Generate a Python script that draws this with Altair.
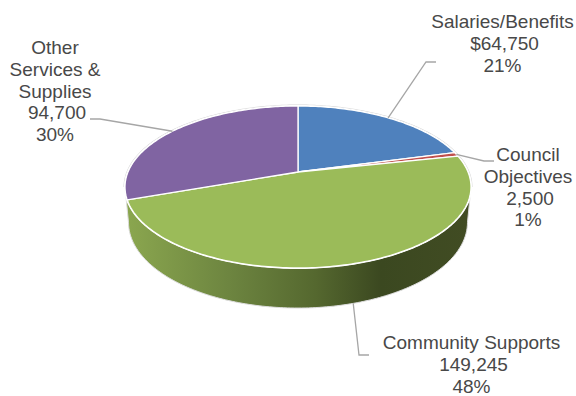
import math
import altair as alt
import pandas as pd

# Budget lines, clockwise from twelve o'clock
categories = ["Salaries/Benefits", "Council Objectives", "Community Supports", "Other Services & Supplies"]
values = [64750, 2500, 149245, 94700]
value_prefix = ["$", "", "", ""]
percents = [21, 1, 48, 30]
colors = ["#4f81bd", "#c0504d", "#9bbb59", "#8064a2"]

label_lines = [["Salaries/Benefits"], ["Council", "Objectives"], ["Community Supports"], ["Other", "Services &", "Supplies"]]
label_center_x = [502.5, 528, 471.5, 55]
label_first_y = [22, 155, 343, 48]
line_gap = 21.8
value_shift = 2
leader_bends = [[(426, 62), (436, 62)], [(484, 161), (494, 161)], [(359, 355), (369, 355)], [(100, 119), (90, 119)]]

# Perspective model of the tilted disc
CX, CY = 298.0, 172.0
RX, RY = 170.0, 78.2
TILT = 0.185
DEPTH, DEPTH_W = 35.4, 0.02


def project(theta_deg, h=0.0):
    t = math.radians(theta_deg)
    u, v = math.sin(t), math.cos(t)
    w = 1 + TILT * v + DEPTH_W * h
    return CX + RX * u / w, CY + (-RY * v + DEPTH * h) / w


def frange(a, b, step=1.0):
    n = max(2, int(abs(b - a) / step) + 1)
    return [a + (b - a) * i / (n - 1) for i in range(n)]


total = sum(values)
edges = [0.0]
for v in values:
    edges.append(edges[-1] + 360.0 * v / total)

X = alt.X("x:Q", scale=alt.Scale(domain=[0, 576], range=[0, 576], nice=False, zero=False), axis=None)
Y = alt.Y("y:Q", scale=alt.Scale(domain=[0, 396], range=[0, 396], nice=False, zero=False), axis=None)


def frame(points):
    return pd.DataFrame([{"i": i, "x": p[0], "y": p[1]} for i, p in enumerate(points)])


def path_layer(points, **mark):
    return alt.Chart(frame(points)).mark_line(interpolate="linear-closed", **mark).encode(
        x=X, y=Y, order=alt.Order("i:Q")
    )


def open_layer(points, **mark):
    return alt.Chart(frame(points)).mark_line(**mark).encode(x=X, y=Y, order=alt.Order("i:Q"))


layers = []

# Side wall: front rim of the top disc joined to the rim of the bottom disc
tangent = math.degrees(math.acos(-TILT))
wall_top = [project(t) for t in frange(tangent, 360 - tangent)]
wall_bottom = [project(t, 1) for t in frange(360 - tangent, tangent)]
wall_fill = alt.Gradient(
    gradient="linear", x1=0, x2=1, y1=0, y2=0,
    stops=[
        alt.GradientStop(offset=0.0, color="#8ba74f"),
        alt.GradientStop(offset=0.3, color="#6d8540"),
        alt.GradientStop(offset=0.55, color="#55682f"),
        alt.GradientStop(offset=0.74, color="#3b4820"),
        alt.GradientStop(offset=1.0, color="#414c23"),
    ],
)
layers.append(path_layer(wall_top + wall_bottom, fill=wall_fill, stroke="#dcdcdc", strokeWidth=1))

# Pale halo along the back of the disc, white rim where it meets the wall
back = [project(t) for t in frange(360 - tangent, 360 + tangent)]
layers.append(open_layer(back, color="#d6d6d6", strokeWidth=3))
rim = [project(t) for t in frange(0, 360)]
layers.append(path_layer(rim, fill="#ffffff", stroke="#ffffff", strokeWidth=2))

# Top face slices
for i, color in enumerate(colors):
    pts = [(CX, CY)] + [project(t) for t in frange(edges[i], edges[i + 1])]
    layers.append(path_layer(pts, fill=color, stroke="#ffffff", strokeWidth=1.3, strokeJoin="round"))

# Leader lines run from mid-slice on the rim out to each label
for i in range(len(values)):
    mid = (edges[i] + edges[i + 1]) / 2
    start = project(mid, 1 if 90 < mid < 270 else 0)
    layers.append(open_layer([start] + leader_bends[i], color="#a6a6a6", strokeWidth=1.3))

# Data labels, one text row per line
rows = []
for i in range(len(values)):
    names = label_lines[i]
    amount = f"{value_prefix[i]}{values[i]:,}"
    for j, line in enumerate(names + [amount, f"{percents[i]}%"]):
        dx = value_shift if line == amount else 0
        rows.append({"x": label_center_x[i] + dx, "y": label_first_y[i] + j * line_gap, "t": line})
layers.append(
    alt.Chart(pd.DataFrame(rows))
    .mark_text(font="Liberation Sans", fontSize=19, color="#484848", align="center", baseline="middle")
    .encode(x=X, y=Y, text="t:N")
)

chart = (
    alt.layer(*layers)
    .properties(width=576, height=396, padding=0, autosize=alt.AutoSizeParams(type="none"), background="#ffffff")
    .configure_view(strokeWidth=0)
)
chart.save("out.html", embed_options={"renderer": "svg", "actions": False})
